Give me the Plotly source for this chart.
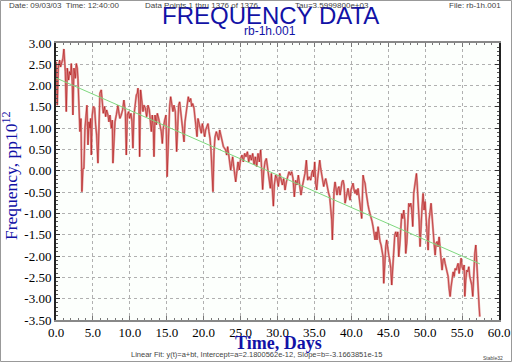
import plotly.graph_objects as go

# ---------------- data ----------------
seg1_days = [0.04,0.17,0.31,0.49,0.62,0.80,0.94,1.07,1.17,1.26,
             1.39,1.53,1.71,1.84,1.98,2.07,2.20,2.29,2.43,2.61,
             2.75,2.88,2.97,3.11,3.24,3.38,3.51,3.65,3.78,3.92,
             4.06,4.19,4.33,4.46,4.60,4.69,4.78,4.91,5.05,5.23,
             5.37,5.50,5.68,5.82,5.95,6.13,6.27,6.40,6.58,6.72,
             6.86,7.04,7.17,7.31,7.49,7.62,7.71,7.85,7.99,8.17,
             8.30,8.39,8.53,8.66,8.84,9.02,9.20,9.39,9.52,9.66,
             9.84,9.97,10.15,10.29,10.42,10.56,10.70,10.88,11.01,11.10,
             11.24,11.33,11.46,11.64,11.78,11.91,12.10,12.28,12.46,12.64,
             12.77,12.91,13.04,13.18,13.27,13.41,13.59,13.72,13.90,14.08,
             14.26,14.40,14.53,14.72,14.90,15.05,15.26,15.39,15.53,15.66,
             15.84,15.98,16.16,16.34,16.48,16.61,16.75,16.88,17.06,17.20,
             17.34,17.47,17.65,17.79,17.92,18.06,18.24,18.38,18.51,18.69,
             18.83,18.96,19.10,19.23,19.37,19.50,19.68,19.82,20.00,20.14,
             20.27,20.45,20.59,20.72,20.86,20.99,21.13,21.26,21.40,21.54,
             21.72,21.85,22.03,22.17,22.30,22.48,22.67]
seg1_vals = [2.56,1.54,2.41,2.60,2.44,2.56,2.64,2.86,2.52,2.33,
             1.39,2.41,2.13,2.33,2.25,2.52,2.09,1.31,2.41,2.17,
             2.52,2.41,2.17,1.62,0.92,1.23,-0.49,0.05,0.06,1.00,
             1.31,1.54,0.61,1.15,1.00,1.23,0.37,1.31,1.51,1.47,
             1.08,0.84,0.18,1.31,1.82,1.90,1.54,1.35,1.51,1.27,
             1.43,1.31,1.15,1.31,1.00,1.19,0.18,0.92,1.15,1.31,
             1.43,1.54,1.35,1.23,1.31,1.43,1.66,1.39,0.37,1.31,
             1.39,1.23,1.35,1.15,0.53,1.31,1.51,1.78,1.82,1.94,
             1.54,0.33,1.90,1.62,1.39,1.54,1.47,1.27,1.54,1.43,
             1.15,0.92,1.31,1.00,0.33,1.31,1.08,1.35,1.23,1.08,
             0.92,0.64,1.00,1.19,1.31,-0.14,1.27,1.51,1.74,1.58,
             1.39,1.54,1.39,0.45,1.35,1.54,1.62,1.43,1.15,0.84,
             0.68,1.15,1.43,1.66,1.74,1.62,1.70,1.51,1.58,1.47,
             1.27,1.04,0.80,1.23,1.11,1.00,0.88,1.11,0.92,0.80,
             0.96,1.04,1.11,0.92,0.76,0.49,-0.10,-0.49,0.45,0.80,
             0.92,0.84,0.72,0.96,0.84,0.68,0.57]

seg2_days = [22.98,23.12,23.25,23.39,23.53,23.66,23.80,23.93,24.07,24.20,
             24.34,24.47,24.65,24.83,25.01,25.19,25.37,25.55,25.73,25.92,
             26.10,26.28,26.46,26.64,26.82,27.00,27.18,27.36,27.54,27.72,
             27.86,27.99,28.13,28.31,28.49,28.67,28.85,29.03,29.17,29.30,
             29.44,29.57,29.75,29.93,30.11,30.30,30.48,30.66,30.84,31.02,
             31.20,31.38,31.56,31.74,31.92,32.10,32.28,32.46,32.64,32.82,
             33.00,33.18,33.36,33.54,33.72,33.91,34.09,34.27]
seg2_vals = [0.49,0.37,0.57,0.33,0.21,0.02,0.18,0.33,0.10,-0.10,
             -0.26,-0.06,0.21,0.02,0.29,0.37,0.21,0.41,0.33,0.45,
             0.21,0.37,0.25,0.41,0.14,0.33,0.10,0.41,0.21,0.49,
             0.10,-0.44,-0.02,0.21,0.29,0.06,-0.14,-0.41,-0.06,-0.61,
             -0.83,-0.33,-0.10,-0.18,-0.37,-0.06,-0.22,-0.33,-0.18,-0.45,
             -0.26,-0.14,-0.02,-0.10,-0.02,-0.18,-0.61,-0.22,-0.33,-0.10,
             -0.37,-0.57,-0.37,-0.22,-0.06,0.25,-0.22,-0.14]

seg3_days = [34.50,34.63,34.77,34.90,35.04,35.17,35.31,35.44,35.58,35.72,
             35.85,35.99,36.12,36.26,36.39,36.53,36.66,36.80,36.93,37.07,
             37.21,37.34,37.43,37.52,37.66,37.79,37.93,38.06,38.20,38.33,
             38.47,38.61,38.74,38.88,39.01,39.15,39.28,39.42,39.55,39.69,
             39.83,39.96,40.10,40.23,40.37,40.50,40.64,40.77,40.91,41.04,
             41.18,41.32,41.41,41.50,41.59,41.72,41.86,41.99,42.13,42.26,
             42.40,42.54,42.67,42.81,42.94,43.08,43.21,43.35,43.48,43.62,
             43.76,43.89,44.03,44.16,44.30,44.39,44.52,44.66,44.79,44.93,
             45.07,45.20,45.34,45.47,45.61,45.74,45.88]
seg3_vals = [-0.22,-0.06,0.02,-0.14,0.21,-0.29,-0.45,-0.18,0.06,0.25,
             0.06,-0.10,-0.29,-0.37,-0.26,-0.18,-0.29,-0.45,-0.53,-0.61,
             -0.88,-1.15,-1.62,-0.96,-0.45,-0.26,-0.45,-0.57,-0.41,-0.37,
             -0.57,-0.37,-0.26,-0.22,-0.33,-0.76,-0.61,-0.49,-0.41,-0.57,
             -0.69,-0.45,-0.33,-0.29,-0.45,-0.53,-0.44,-0.57,-0.41,-0.65,
             -0.84,-1.00,-1.12,-0.53,-0.10,-0.22,-0.29,-0.49,-0.69,-0.80,
             -0.92,-1.00,-1.08,-1.19,-1.31,-1.51,-1.62,-1.43,-1.62,-1.31,
             -1.55,-1.66,-1.74,-1.90,-2.02,-2.64,-2.17,-1.78,-1.62,-1.86,
             -1.98,-2.09,-2.29,-2.68,-2.25,-1.70,-1.51]

seg4_days = [46.02,46.15,46.29,46.42,46.56,46.69,46.83,46.96,47.10,47.24,
             47.37,47.51,47.64,47.78,47.91,48.05,48.18,48.32,48.45,48.59,
             48.73,48.82,48.91,49.04,49.18,49.31,49.45,49.58,49.72,49.85,
             49.99,50.13,50.26,50.40,50.53,50.67,50.80,50.94,51.07,51.21,
             51.35,51.48,51.62,51.75,51.89,52.02,52.16,52.29,52.43,52.57,
             52.70,52.84,52.97,53.11,53.24,53.38,53.51,53.65,53.79,53.92,
             54.06,54.19,54.33,54.46,54.60,54.73,54.87,55.00,55.14,55.28,
             55.37,55.50,55.64,55.77,55.91,56.04,56.18,56.31,56.45,56.59,
             56.72,56.86,56.95,57.04,57.13,57.22,57.31,57.40]
seg4_vals = [-1.43,-1.55,-1.43,-2.02,-1.74,-1.31,-1.00,-1.12,-0.92,-1.15,
             -1.94,-1.70,-1.31,-0.76,-0.84,-0.76,-0.92,-1.31,-0.53,-0.37,
             -0.25,-0.06,-0.29,-0.61,-1.15,-1.78,-1.15,-0.84,-0.53,-0.92,
             -0.72,-1.15,-1.55,-1.86,-1.15,-0.88,-0.76,-1.08,-1.47,-1.70,
             -1.98,-1.70,-1.66,-1.78,-1.55,-1.78,-1.94,-2.33,-2.09,-2.05,
             -2.17,-2.29,-2.37,-2.48,-2.76,-2.95,-2.72,-2.52,-2.37,-2.48,
             -2.29,-2.33,-2.21,-2.17,-2.41,-2.21,-2.05,-2.25,-2.33,-2.21,
             -2.95,-2.56,-2.33,-2.37,-2.25,-2.48,-2.60,-2.68,-2.95,-2.33,
             -1.94,-1.74,-2.09,-2.41,-2.72,-3.03,-3.19,-3.42]

# linear fit parameters (t in units of tau = 1 hour)
FIT_INTERCEPT = 2.1800562e-12
FIT_SLOPE = -3.1663851e-15

x_tick_vals = [0, 5, 10, 15, 20, 25, 30, 35, 40, 45, 50, 55, 60]
x_tick_labels = ["0.0", "5.0", "10.0", "15.0", "20.0", "25.0", "30.0",
                 "35.0", "40.0", "45.0", "50.0", "55.0", "60.0"]
y_tick_vals = [3.0, 2.5, 2.0, 1.5, 1.0, 0.5, 0.0, -0.5, -1.0, -1.5,
               -2.0, -2.5, -3.0, -3.5]
y_tick_labels = ["3.00", "2.50", "2.00", "1.50", "1.00", "0.50", "0.00",
                 "-0.50", "-1.00", "-1.50", "-2.00", "-2.50", "-3.00", "-3.50"]

# ---------------- assemble ----------------
segs = [(seg1_days, seg1_vals), (seg2_days, seg2_vals),
        (seg3_days, seg3_vals), (seg4_days, seg4_vals)]
days, vals = [], []
for d, v in segs:
    assert len(d) == len(v), (len(d), len(v))
    days += d
    vals += v

fit_days = [0.0, days[-1]]
fit_vals = [(FIT_INTERCEPT + FIT_SLOPE * d * 24.0) * 1e12 for d in fit_days]

fig = go.Figure()
fig.add_trace(go.Scatter(x=days, y=vals, mode="lines",
                         line=dict(color="#df9494", width=2.2),
                         hoverinfo="skip"))
fig.add_trace(go.Scatter(x=days, y=vals, mode="lines",
                         line=dict(color="#a80000", width=0.5),
                         hoverinfo="skip"))
fig.add_trace(go.Scatter(x=fit_days, y=fit_vals, mode="lines",
                         line=dict(color="#7ed87e", width=1),
                         hoverinfo="skip"))

L, R, T, B = 56, 13, 43, 42
W, H = 512, 362
PW, PH = W - L - R, H - T - B


def px(xp):
    return (xp - L) / PW


def py(yp):
    return (H - B - yp) / PH


serif = "Liberation Serif"
sans = "Liberation Sans"
blue = "#1212a6"
small = dict(family=sans, size=8, color="#444")

annotations = [
    dict(text="FREQUENCY DATA", x=px(270), y=py(16), xanchor="center", yanchor="middle",
         font=dict(family=sans, size=24, color=blue)),
    dict(text="rb-1h.001", x=px(270), y=py(31), xanchor="center", yanchor="middle",
         font=dict(family=sans, size=12, color=blue)),
    dict(text="Date: 09/03/03  Time: 12:40:00", x=px(7), y=py(5), xanchor="left",
         yanchor="middle", font=small),
    dict(text="Data Points 1 thru 1376 of 1376", x=px(202), y=py(5), xanchor="center",
         yanchor="middle", font=small),
    dict(text="Tau=3.5999800e+03", x=px(332), y=py(5), xanchor="center",
         yanchor="middle", font=small),
    dict(text="File: rb-1h.001", x=px(503), y=py(5), xanchor="right",
         yanchor="middle", font=small),
    dict(text="<b>Time, Days</b>", x=px(278), y=py(343), xanchor="center", yanchor="middle",
         font=dict(family=serif, size=18, color=blue)),
    dict(text="Frequency, pp10<sup>12</sup>", x=px(10), y=py(176), xanchor="center",
         yanchor="middle", textangle=-90,
         font=dict(family=serif, size=17.5, color=blue)),
    dict(text="Linear Fit: y(t)=a+bt, Intercept=a=2.1800562e-12, Slope=b=-3.1663851e-15",
         x=px(256), y=py(354), xanchor="center", yanchor="middle",
         font=dict(family=sans, size=7.5, color="#444")),
    dict(text="Stable32", x=px(505), y=py(358), xanchor="right", yanchor="middle",
         font=dict(family=sans, size=5, color="#444")),
]
for a in annotations:
    a.update(xref="paper", yref="paper", showarrow=False)

fig.update_layout(
    width=W, height=H,
    margin=dict(l=L, r=R, t=T, b=B, pad=0),
    paper_bgcolor="white", plot_bgcolor="#fcfffc",
    showlegend=False,
    annotations=annotations,
    shapes=[dict(type="rect", xref="paper", yref="paper",
                 x0=px(0.5), x1=px(W - 0.5), y0=py(H - 0.5), y1=py(0.5),
                 line=dict(color="#999", width=1), layer="below")],
    xaxis=dict(range=[0, 60], tickvals=x_tick_vals, ticktext=x_tick_labels,
               ticks="inside", ticklen=4, tickcolor="#777", tickwidth=1,
               showline=True, linecolor="#888", linewidth=1.5, mirror="ticks",
               showgrid=True, gridcolor="#b0b0b0", griddash="dot", gridwidth=1,
               zeroline=False, automargin=False,
               tickfont=dict(family=serif, size=13, color="black"),
               minor=dict(dtick=1, tick0=0, ticks="inside", ticklen=2,
                          tickcolor="#777", showgrid=False)),
    yaxis=dict(range=[-3.5, 3.0], tickvals=y_tick_vals, ticktext=y_tick_labels,
               ticks="inside", ticklen=4, tickcolor="#333", tickwidth=1,
               showline=True, linecolor="#222", linewidth=2, mirror="ticks",
               showgrid=True, gridcolor="#b0b0b0", griddash="dot", gridwidth=1,
               zeroline=False, automargin=False,
               tickfont=dict(family=serif, size=13, color="black"),
               minor=dict(dtick=0.1, tick0=0, ticks="inside", ticklen=2,
                          tickcolor="#555", showgrid=False)),
)

fig.write_html(
    "out.html",
    config={"displayModeBar": False},
    post_script="document.body.style.margin='0';document.body.style.overflow='hidden';",
)
